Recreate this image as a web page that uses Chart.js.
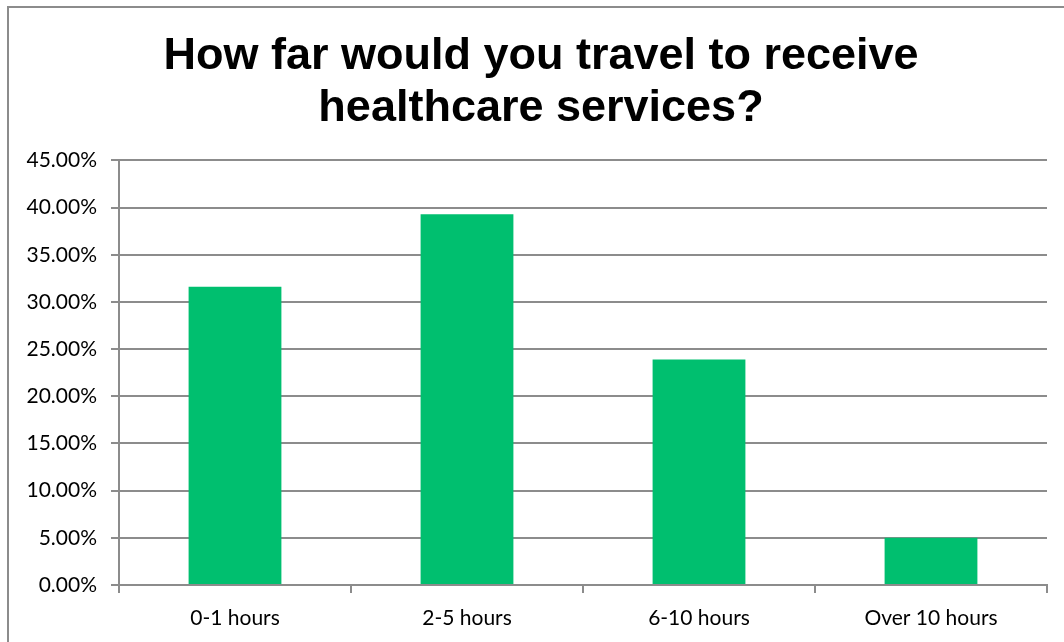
<!DOCTYPE html>
<html>
<head>
<meta charset="utf-8">
<script src="https://cdn.jsdelivr.net/npm/chart.js@4"></script>
<style>
  html, body { margin: 0; padding: 0; background: #fff; overflow: hidden; width: 1064px; height: 642px; }
  .frame {
    position: absolute; left: 7px; top: 6px; width: 1068px; height: 660px;
    border-left: 2px solid #8c8c8c; border-top: 2px solid #8c8c8c;
  }
  #chart { position: absolute; left: 7px; top: 6px; }
</style>
</head>
<body>
<div class="frame"></div>
<canvas id="chart" width="1068" height="660"></canvas>
<script>
const categories = ["0-1 hours", "2-5 hours", "6-10 hours", "Over 10 hours"];
const shares = [31.6, 39.3, 23.9, 5.0];
const titleLines = ["How far would you travel to receive", "healthcare services?"];

const tickFont = { family: "Lato", size: 21 };
const gray = "#8c8c8c";

// the title in the original sits a bit right of the canvas centre
const titleShift = {
    id: "titleShift",
    afterLayout: function (chart) {
        chart.titleBlock.left += 14;
        chart.titleBlock.right += 14;
    }
};

const ctx = document.getElementById("chart");
new Chart(ctx, {
    type: "bar",
    data: {
        labels: categories,
        datasets: [{
            label: "Share",
            data: shares,
            backgroundColor: "#00bf6f",
            borderWidth: 0,
            categoryPercentage: 1,
            barPercentage: 0.4
        }]
    },
    options: {
        responsive: false,
        animation: false,
        layout: { padding: { left: 0, right: 28, top: 0, bottom: 0 } },
        plugins: {
            legend: { display: false },
            tooltip: { enabled: false },
            title: {
                display: true,
                text: titleLines,
                color: "#000",
                font: { family: "Liberation Sans", size: 45, weight: "bold", lineHeight: 1.16 },
                padding: { top: 24, bottom: 26 }
            }
        },
        scales: {
            x: {
                grid: { display: true, drawOnChartArea: false, drawTicks: true, tickLength: 8, color: gray, lineWidth: 2 },
                border: { display: true, color: gray, width: 2 },
                ticks: { color: "#000", font: tickFont, padding: 13 },
                afterFit: function (axis) { axis.height = 660 - 579; }
            },
            y: {
                min: 0,
                max: 45,
                grid: { color: gray, lineWidth: 2, tickLength: 8 },
                border: { display: true, color: gray, width: 2 },
                ticks: {
                    stepSize: 5,
                    color: "#000",
                    font: tickFont,
                    padding: 14,
                    callback: function (v) { return v.toFixed(2) + "%"; }
                },
                afterFit: function (axis) { axis.width = 112; }
            }
        }
    },
    plugins: [titleShift]
});
</script>
</body>
</html>
